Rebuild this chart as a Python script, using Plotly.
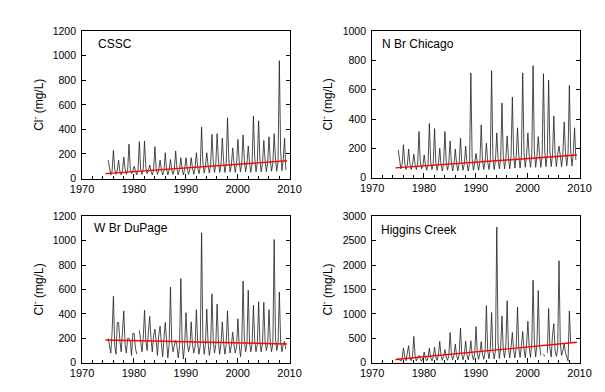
import plotly.graph_objects as go

# ---------------- data ----------------
years = list(range(1975, 2010))
months = [1, 4, 7, 10]  # winter peak, spring, summer low, autumn

cssc_jan = [150, 230, 150, 175, 280, 100, 300, 305, 110, 260, 150, 210, 155, 225, 170, 170, 170, 210, 420, 210,
            360, 365, 330, 495, 250, 320, 355, 265, 510, 470, 310, 340, 365, 960, 330]
cssc_apr = [70, 75, 60, 80, 85, 65, 75, 90, 60, 85, 70, 75, 70, 80, 75, 80, 85, 90, 130, 110,
            140, 150, 140, 160, 130, 145, 150, 130, 170, 160, 150, 150, 160, 220, 70]
cssc_jul = [30, 35, 30, 35, 40, 30, 35, 40, 30, 35, 30, 30, 35, 30, 30, 35, 35, 40, 45, 45,
            50, 50, 50, 55, 50, 55, 55, 50, 55, 55, 55, 60, 60, 65, None]
cssc_oct = [60, 70, 65, 70, 60, 70, 80, 65, 70, 75, 65, 70, 75, 75, 80, 80, 85, 95, 100, 110,
            120, 115, 120, 110, 120, 125, 120, 125, 130, 125, 130, 130, 140, 150, None]

chi_jan = [190, 225, 195, 160, 315, 155, 370, 335, 200, 315, 250, 195, 270, 215, 715, 165, 360, 235, 730, 305,
           510, 285, 550, 340, 715, 305, 765, 280, 710, 665, 420, 215, 380, 630, 340]
chi_apr = [110, 100, 95, 90, 110, 85, 110, 105, 90, 110, 100, 95, 105, 100, 130, 100, 120, 110, 140, 130,
           150, 135, 160, 150, 170, 150, 180, 150, 180, 175, 165, 150, 170, 180, 120]
chi_jul = [60, 55, 55, 55, 60, 50, 55, 50, 45, 50, 45, 45, 50, 45, 50, 50, 55, 55, 55, 60,
           60, 60, 65, 65, 70, 70, 70, 70, 75, 75, 75, 75, 80, 80, None]
chi_oct = [90, 85, 90, 95, 80, 90, 95, 90, 95, 100, 95, 100, 95, 100, 105, 110, 110, 115, 120, 125,
           130, 140, 145, 150, 150, 155, 150, 155, 160, 155, 160, 165, 170, 165, None]

dup_jan = [200, 545, 330, 425, 200, 240, 265, 430, 380, 275, 300, 330, 620, 185, 690, 410, 335, 435, 1065, 440,
           565, 480, 335, 425, 250, 360, 670, 595, 470, 500, 495, 435, 1010, 580, 175]
dup_apr = [150, 140, 180, 150, 180, 120, 150, 180, 200, 180, 160, 180, 170, 140, 170, 160, 150, 160, 200, 170,
           180, 170, 160, 170, 150, 150, 180, 170, 180, 170, 180, 170, 200, 170, 110]
dup_jul = [80, 70, 90, 80, 60, 70, 90, 100, 90, 60, 50, 40, 90, 40, 30, 90, 80, 70, 70, 60,
           80, 70, 70, 80, 80, 50, 90, 90, 90, 90, 100, 90, 100, 90, None]
dup_oct = [250, 330, 250, 200, 240, None, 200, 250, 220, 230, 200, 150, 140, 130, 150, 140, 130, 140, 150, 140,
           150, 160, 150, 140, 130, 150, 160, 160, 150, 160, 150, 160, 160, 150, None]

hig_jan = [100, 300, 350, 540, 150, 220, 300, 320, 440, 270, 620, 380, 710, 440, 450, 740, 430, 1170, 1030, 2780,
           960, 1270, 620, 1140, 640, 850, 1690, 1480, 180, 1110, 800, 2090, 400, 1060, None]
hig_apr = [60, 120, 100, 150, 80, 100, 110, 120, 150, 120, 170, 150, 180, 160, 170, 200, 180, 250, 240, 400,
           280, 300, 250, 300, 280, 320, 400, 350, 130, 300, 250, 400, 200, 420, None]
hig_jul = [30, 40, 40, 40, 30, 40, 40, 50, 50, 50, 60, 60, 60, 60, 60, 70, 70, 80, 80, 90,
           100, 100, 100, 110, 100, 110, 120, 150, None, 120, 130, 150, 100, None, None]
hig_oct = [80, 200, 120, 100, 90, 110, 120, 150, 130, 140, 150, 160, 170, 200, 180, 200, 220, 300, 250, 300,
           350, 320, 330, 350, 380, 400, 380, None, 200, 570, 300, 250, 40, None, None]

trend_dates = ["1974-07-01", "2009-07-01"]
cssc_trend = [40, 145]
chi_trend = [66, 154]
dup_trend = [186, 154]
hig_trend = [66, 419]

panel_names = ["CSSC", "N Br Chicago", "W Br DuPage", "Higgins Creek"]
y_max = [1200, 1000, 1200, 3000]
y_step = [200, 200, 200, 500]


def build(jan, apr, jul, octo):
    xs, ys = [], []
    for i, yr in enumerate(years):
        for m, v in zip(months, (jan[i], apr[i], jul[i], octo[i])):
            xs.append(f"{yr}-{m:02d}-15")
            ys.append(v)
    return xs, ys


series = [
    build(cssc_jan, cssc_apr, cssc_jul, cssc_oct),
    build(chi_jan, chi_apr, chi_jul, chi_oct),
    build(dup_jan, dup_apr, dup_jul, dup_oct),
    build(hig_jan, hig_apr, hig_jul, hig_oct),
]
trends = [cssc_trend, chi_trend, dup_trend, hig_trend]

W, H = 605, 392
# plot areas in pixels: (left, right, top, bottom)
boxes = [(73, 289, 26, 178), (375, 591, 26, 177), (73, 289, 217, 368), (375, 591, 217, 368)]
label_pos = [(87, 39), (383, 39), (83, 229), (382, 231)]
title_x = [27, 328, 27, 328]

fig = go.Figure()
layout = dict(width=W, height=H, autosize=False, margin=dict(l=0, r=0, t=0, b=0, pad=0),
              paper_bgcolor="white", plot_bgcolor="white", showlegend=False,
              font=dict(family="Arial, Liberation Sans, sans-serif", color="black"))
annotations = []

for k in range(4):
    sx = "" if k == 0 else str(k + 1)
    xs, ys = series[k]
    fig.add_trace(go.Scatter(x=xs, y=ys, mode="lines", line=dict(color="#202020", width=0.8),
                             connectgaps=False, xaxis="x" + sx, yaxis="y" + sx, hoverinfo="skip"))
    fig.add_trace(go.Scatter(x=trend_dates, y=trends[k], mode="lines", line=dict(color="#ff0000", width=1.4),
                             xaxis="x" + sx, yaxis="y" + sx, hoverinfo="skip"))
    l, r, t, b = boxes[k]
    xd = [l / W, r / W]
    yd = [1 - b / H, 1 - t / H]
    layout["xaxis" + sx] = dict(
        domain=xd, anchor="y" + sx, type="date",
        range=["1970-01-01", "2010-01-01"], tick0="1970-01-01", dtick="M120", tickformat="%Y",
        ticks="inside", ticklen=5, tickcolor="black", tickwidth=1,
        showline=True, linecolor="black", linewidth=1, mirror=True,
        showgrid=False, zeroline=False,
        minor=dict(dtick="M24", tick0="1970-01-01", ticks="inside", ticklen=3, tickcolor="black", showgrid=False),
        tickfont=dict(size=11, color="black"))
    layout["yaxis" + sx] = dict(
        domain=yd, anchor="x" + sx, range=[0, y_max[k]], dtick=y_step[k], tick0=0,
        ticks="inside", ticklen=4, tickcolor="black", tickwidth=1,
        showline=True, linecolor="black", linewidth=1, mirror="ticks",
        showgrid=False, zeroline=False, ticklabelstandoff=3,
        tickfont=dict(size=10.5, color="black"))
    lx, ly = label_pos[k]
    annotations.append(dict(text=panel_names[k], x=lx / W, y=1 - ly / H, xref="paper", yref="paper",
                            xanchor="left", yanchor="middle", showarrow=False,
                            font=dict(size=12, color="black")))
    annotations.append(dict(text="Cl<sup>-</sup> (mg/L)", x=title_x[k] / W, y=1 - (t + b) / 2 / H,
                            xref="paper", yref="paper", xanchor="center", yanchor="middle",
                            textangle=-90, showarrow=False, font=dict(size=12, color="black")))

layout["annotations"] = annotations
fig.update_layout(**layout)
fig.write_html("out.html",
               config={"displayModeBar": False, "staticPlot": True},
               post_script="document.body.style.margin='0';document.body.style.padding='0';"
                           "document.body.style.overflow='hidden';")
